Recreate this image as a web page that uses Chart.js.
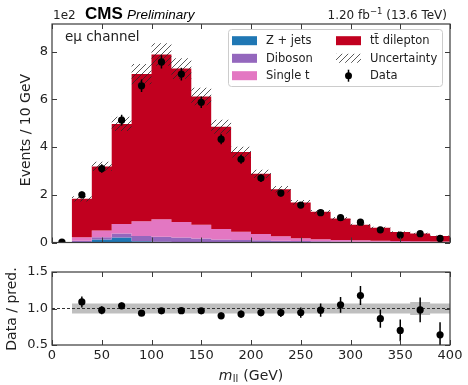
<!DOCTYPE html>
<html><head><meta charset="utf-8">
<script src="https://cdn.jsdelivr.net/npm/chart.js@4.4.1/dist/chart.umd.min.js"></script>
<style>
html,body{margin:0;padding:0;background:#fff;}
#wrap{position:relative;width:468px;height:385px;overflow:hidden;}
canvas{position:absolute;left:0;top:0;}
</style></head><body>
<div id="wrap"><canvas id="main" width="468" height="385"></canvas><canvas id="ratio" width="468" height="385"></canvas></div>
<script>
// ---------------- data (units of 1e2 events) ----------------
const binEdges   = [0,20,40,60,80,100,120,140,160,180,200,220,240,260,280,300,320,340,360,380,400];
const binCentres = [10,30,50,70,90,110,130,150,170,190,210,230,250,270,290,310,330,350,370,390];
const zJets      = [0,0.02,0.13,0.21,0.05,0.03,0.02,0.02,0.01,0.01,0.01,0.01,0,0,0,0,0,0,0,0];
const diboson    = [0,0.05,0.09,0.17,0.22,0.21,0.19,0.15,0.12,0.10,0.08,0.06,0.06,0.05,0.04,0.035,0.03,0.025,0.02,0.02];
const singleTop  = [0,0.15,0.28,0.40,0.62,0.73,0.65,0.57,0.44,0.34,0.27,0.19,0.12,0.09,0.07,0.055,0.04,0.035,0.03,0.02];
const ttDilepton = [0,1.61,2.69,4.19,6.17,6.91,6.43,5.38,4.28,3.34,2.52,1.97,1.50,1.15,0.90,0.65,0.55,0.38,0.33,0.23];
const dataValues = [0.02,2.00,3.10,5.13,6.57,7.57,7.06,5.88,4.33,3.49,2.70,2.07,1.57,1.25,1.04,0.85,0.53,0.31,0.37,0.17];
const dataErrors = [0.015,0.14,0.18,0.23,0.26,0.28,0.27,0.24,0.21,0.19,0.16,0.14,0.125,0.11,0.10,0.09,0.07,0.055,0.06,0.04];
const predRelUnc = [0,0.06,0.06,0.06,0.06,0.06,0.06,0.06,0.06,0.06,0.06,0.06,0.06,0.06,0.06,0.06,0.06,0.06,0.08,0.07];
const ratioValues = [null,1.09,0.977,1.037,0.936,0.968,0.97,0.968,0.90,0.923,0.945,0.945,0.945,0.977,1.05,1.177,0.86,0.70,0.98,0.64];
const ratioErrors = [null,0.075,0.055,0.045,0.04,0.037,0.038,0.04,0.045,0.05,0.055,0.06,0.07,0.09,0.108,0.13,0.125,0.15,0.17,0.17];
const ratioBand   = [null,0.07,0.07,0.07,0.07,0.07,0.07,0.07,0.07,0.07,0.07,0.07,0.07,0.07,0.07,0.07,0.07,0.07,0.09,0.07];
const xTickValues = [0,50,100,150,200,250,300,350,400];
const yTickValuesMain  = [0,2,4,6,8];
const yTickValuesRatio = [0.5,1.0,1.5];

// ---------------- helpers ----------------
const FONT = '"DejaVu Sans", sans-serif';
const colZ = '#1f77b4', colDib = '#9467bd', colST = '#e377c2', colTT = '#c1001f';

function addArr(a,b){ return a.map((v,i)=>v + b[i]); }
const cum1 = zJets.slice();
const cum2 = addArr(cum1, diboson);
const cum3 = addArr(cum2, singleTop);
const cum4 = addArr(cum3, ttDilepton);
const uncLow  = cum4.map((v,i)=>v*(1-predRelUnc[i]));
const uncHigh = cum4.map((v,i)=>v*(1+predRelUnc[i]));
const bandLow  = ratioBand.map(w => w==null ? null : 1-w);
const bandHigh = ratioBand.map(w => w==null ? null : 1+w);

function stepPoints(vals, start){
  start = start || 0;
  const pts = [];
  for (let i=start;i<vals.length;i++){
    if (vals[i]==null) continue;
    pts.push({x: binEdges[i], y: vals[i]});
  }
  pts.push({x: binEdges[vals.length], y: vals[vals.length-1]});
  return pts;
}
const stepStyle = {stepped: true, borderWidth: 0, borderColor: 'rgba(0,0,0,0)', pointRadius: 0, pointHoverRadius: 0, tension: 0};

const mainCanvas = document.getElementById('main');
function makeHatch(ctx){
  const c = document.createElement('canvas'); c.width = 6; c.height = 6;
  const g = c.getContext('2d');
  g.strokeStyle = 'rgba(40,40,40,0.85)'; g.lineWidth = 0.9;
  g.beginPath();
  g.moveTo(0,6); g.lineTo(6,0);
  g.moveTo(-1,1); g.lineTo(1,-1);
  g.moveTo(5,7); g.lineTo(7,5);
  g.stroke();
  return ctx.createPattern(c,'repeat');
}
const hatch = makeHatch(mainCanvas.getContext('2d'));

function drawFrame(chart, yTicks){
  const {ctx, chartArea: a} = chart;
  const x = chart.scales.x, y = chart.scales.y;
  ctx.save();
  ctx.strokeStyle = '#3a3a3a';
  ctx.lineWidth = 1;
  ctx.beginPath();
  const L = 5;
  xTickValues.forEach(v => {
    const px = Math.round(x.getPixelForValue(v)) + 0.5;
    ctx.moveTo(px, a.bottom); ctx.lineTo(px, a.bottom - L);
    ctx.moveTo(px, a.top); ctx.lineTo(px, a.top + L);
  });
  yTicks.forEach(v => {
    const py = Math.round(y.getPixelForValue(v)) + 0.5;
    ctx.moveTo(a.left, py); ctx.lineTo(a.left + L, py);
    ctx.moveTo(a.right, py); ctx.lineTo(a.right - L, py);
  });
  ctx.stroke();
  ctx.lineWidth = 1.2;
  ctx.strokeRect(a.left, a.top, a.right - a.left, a.bottom - a.top);
  ctx.restore();
}

const errorBarPlugin = {
  id: 'errorBars',
  afterDatasetsDraw(chart){
    const {ctx, chartArea: a} = chart;
    const y = chart.scales.y;
    chart.data.datasets.forEach((ds, di) => {
      if (!ds.errors) return;
      const meta = chart.getDatasetMeta(di);
      ctx.save();
      ctx.beginPath(); ctx.rect(a.left, a.top, a.right-a.left, a.bottom-a.top); ctx.clip();
      ctx.strokeStyle = '#000'; ctx.lineWidth = 1.5;
      ctx.beginPath();
      meta.data.forEach((pt, i) => {
        const d = ds.data[i];
        const e = ds.errors[i];
        ctx.moveTo(pt.x, y.getPixelForValue(d.y - e));
        ctx.lineTo(pt.x, y.getPixelForValue(d.y + e));
      });
      ctx.stroke();
      ctx.restore();
    });
  }
};

function yTitle(ctx, text, x, y, size){
  ctx.save();
  ctx.translate(x, y); ctx.rotate(-Math.PI/2);
  ctx.font = size + 'px ' + FONT; ctx.fillStyle = '#222';
  ctx.textAlign = 'center'; ctx.textBaseline = 'middle';
  ctx.fillText(text, 0, 0);
  ctx.restore();
}

const mainText = {
  id: 'mainText',
  afterDraw(chart){
    drawFrame(chart, yTickValuesMain);
    const ctx = chart.ctx;
    ctx.save();
    ctx.fillStyle = '#222'; ctx.textBaseline = 'alphabetic'; ctx.textAlign = 'left';
    // header
    ctx.font = '12px ' + FONT; ctx.fillText('1e2', 53, 18.5);
    ctx.fillStyle = '#000';
    ctx.font = 'bold 17px "Liberation Sans", Arial, sans-serif'; ctx.fillText('CMS', 85, 18.5);
    ctx.font = 'italic 13.5px "Liberation Sans", Arial, sans-serif'; ctx.fillText('Preliminary', 127, 18.5);
    // lumi (right aligned)
    ctx.fillStyle = '#222';
    const p1 = '1.20 fb', p2 = '\u22121', p3 = ' (13.6 TeV)';
    ctx.font = '12px ' + FONT; const w1 = ctx.measureText(p1).width, w3 = ctx.measureText(p3).width;
    ctx.font = '8.5px ' + FONT; const w2 = ctx.measureText(p2).width;
    let x0 = 447 - (w1 + w2 + w3);
    ctx.font = '12px ' + FONT; ctx.fillText(p1, x0, 18.5);
    ctx.font = '8.5px ' + FONT; ctx.fillText(p2, x0 + w1, 13.5);
    ctx.font = '12px ' + FONT; ctx.fillText(p3, x0 + w1 + w2, 18.5);
    // channel
    ctx.font = '13.5px ' + FONT; ctx.fillText('e\u03bc channel', 65, 41);
    // legend box
    ctx.beginPath();
    ctx.roundRect(228.5, 29.5, 214, 57, 3);
    ctx.fillStyle = 'rgba(255,255,255,0.85)'; ctx.fill();
    ctx.strokeStyle = '#cccccc'; ctx.lineWidth = 1; ctx.stroke();
    const rows = [40.7, 58.3, 75.7];
    const col1 = [[colZ,'Z + jets'],[colDib,'Diboson'],[colST,'Single t']];
    ctx.font = '11.5px ' + FONT; ctx.textBaseline = 'middle';
    col1.forEach((c, i) => {
      ctx.fillStyle = c[0]; ctx.fillRect(232, rows[i]-4.5, 25, 9);
      ctx.fillStyle = '#222'; ctx.fillText(c[1], 266, rows[i]+0.5);
    });
    ctx.fillStyle = colTT; ctx.fillRect(336, rows[0]-4.5, 25, 9);
    ctx.fillStyle = '#222'; ctx.fillText('tt\u0304 dilepton', 370, rows[0]+0.5);
    ctx.fillStyle = hatch; ctx.fillRect(336, rows[1]-4.5, 25, 9);
    ctx.fillStyle = '#222'; ctx.fillText('Uncertainty', 370, rows[1]+0.5);
    ctx.fillStyle = '#000';
    ctx.beginPath(); ctx.arc(348.5, rows[2], 3.5, 0, Math.PI*2); ctx.fill();
    ctx.strokeStyle = '#000'; ctx.lineWidth = 1.5;
    ctx.beginPath(); ctx.moveTo(348.5, rows[2]-6); ctx.lineTo(348.5, rows[2]+6); ctx.stroke();
    ctx.fillStyle = '#222'; ctx.fillText('Data', 370, rows[2]+0.5);
    ctx.restore();
    yTitle(ctx, 'Events / 10 GeV', 26, 130, 14);
  }
};

const ratioText = {
  id: 'ratioText',
  afterDraw(chart){
    drawFrame(chart, yTickValuesRatio);
    const ctx = chart.ctx;
    yTitle(ctx, 'Data / pred.', 12, 309, 14);
    ctx.save();
    ctx.fillStyle = '#222'; ctx.textBaseline = 'alphabetic'; ctx.textAlign = 'left';
    const fM = 'italic 14px ' + FONT, fS = '10px ' + FONT, fR = '14px ' + FONT;
    ctx.font = fM; const wm = ctx.measureText('m').width;
    ctx.font = fS; const ws = ctx.measureText('ll').width;
    ctx.font = fR; const wr = ctx.measureText(' (GeV)').width;
    let x0 = 251 - (wm + ws + 1 + wr)/2;
    const base = 379.5;
    ctx.font = fM; ctx.fillText('m', x0, base);
    ctx.font = fS; ctx.fillText('ll', x0 + wm + 0.5, base + 2.5);
    ctx.font = fR; ctx.fillText(' (GeV)', x0 + wm + ws + 1, base);
    ctx.restore();
  }
};

const common = {
  responsive: false, animation: false, devicePixelRatio: 1,
  events: [],
  plugins: {legend: {display: false}, tooltip: {enabled: false}}
};

// ---------------- main panel ----------------
// 'order': higher values are drawn first (underneath)
new Chart(mainCanvas, {
  type: 'line',
  data: {datasets: [
    Object.assign({data: stepPoints(cum1), backgroundColor: colZ, fill: 'origin', order: 7}, stepStyle),
    Object.assign({data: stepPoints(cum2), backgroundColor: colDib, fill: '-1', order: 6}, stepStyle),
    Object.assign({data: stepPoints(cum3), backgroundColor: colST, fill: '-1', order: 5}, stepStyle),
    Object.assign({data: stepPoints(cum4), backgroundColor: colTT, fill: '-1', order: 4}, stepStyle),
    Object.assign({data: stepPoints(uncLow, 1), fill: false, order: 3}, stepStyle),
    Object.assign({data: stepPoints(uncHigh, 1), backgroundColor: hatch, fill: '-1', order: 2}, stepStyle),
    {data: dataValues.map((v,i)=>({x: binCentres[i], y: v})), errors: dataErrors, showLine: false, order: 1,
     pointRadius: 3.6, pointBackgroundColor: '#000', pointBorderWidth: 0, borderColor: '#000', fill: false}
  ]},
  options: Object.assign({}, common, {
    layout: {padding: {top: 24, bottom: 142.5, left: 0, right: 18}},
    scales: {
      x: {type: 'linear', min: 0, max: 400, ticks: {display: false}, grid: {display: false, drawTicks: false}, border: {display: false},
          afterFit(s){ s.height = 0; }},
      y: {type: 'linear', min: 0, max: 9.16,
          ticks: {stepSize: 2, includeBounds: false, padding: 4, color: '#222', font: {family: FONT, size: 13}},
          grid: {display: false, drawTicks: false}, border: {display: false},
          afterFit(s){ s.width = 52; }}
    }
  }),
  plugins: [errorBarPlugin, mainText]
});

// ---------------- ratio panel ----------------
new Chart(document.getElementById('ratio'), {
  type: 'line',
  data: {datasets: [
    Object.assign({data: stepPoints(bandLow, 1), fill: false, order: 4}, stepStyle),
    Object.assign({data: stepPoints(bandHigh, 1), backgroundColor: 'rgba(175,175,175,0.8)', fill: '-1', order: 3}, stepStyle),
    {data: [{x: 0, y: 1}, {x: 400, y: 1}], borderColor: '#333', borderWidth: 1, borderDash: [3,2], pointRadius: 0, fill: false, order: 2},
    {data: ratioValues.map((v,i)=> v==null ? null : ({x: binCentres[i], y: v})).filter(p => p),
     errors: ratioErrors.filter(e => e != null), showLine: false, order: 1,
     pointRadius: 3.6, pointBackgroundColor: '#000', pointBorderWidth: 0, borderColor: '#000', fill: false}
  ]},
  options: Object.assign({}, common, {
    layout: {padding: {top: 272, bottom: 0, left: 0, right: 18}},
    scales: {
      x: {type: 'linear', min: 0, max: 400,
          ticks: {stepSize: 50, padding: 3, color: '#222', font: {family: FONT, size: 13}, maxRotation: 0},
          grid: {display: false, drawTicks: false}, border: {display: false},
          afterFit(s){ s.height = 40; }},
      y: {type: 'linear', min: 0.5, max: 1.5,
          ticks: {stepSize: 0.5, padding: 4, color: '#222', font: {family: FONT, size: 13}, callback: v => Number(v).toFixed(1)},
          grid: {display: false, drawTicks: false}, border: {display: false},
          afterFit(s){ s.width = 52; }}
    }
  }),
  plugins: [errorBarPlugin, ratioText]
});
</script>
</body></html>
